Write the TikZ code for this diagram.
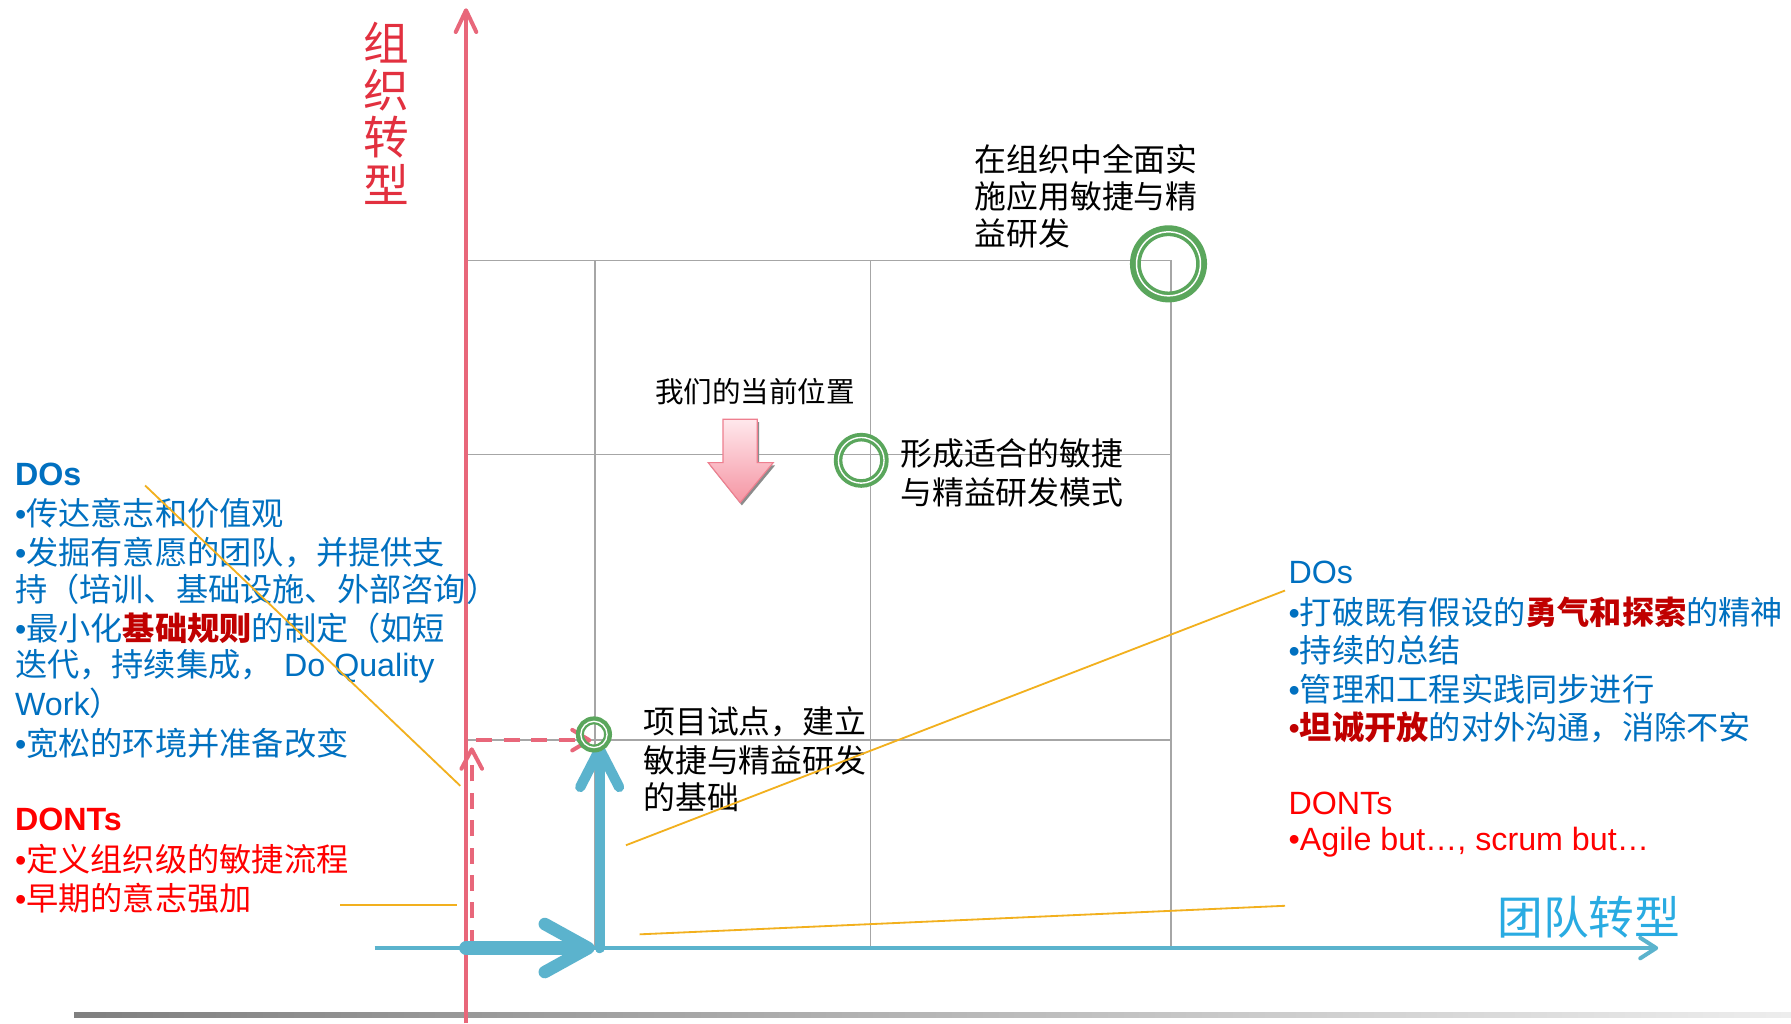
\documentclass[tikz,border=0pt]{standalone}
\usepackage{fontspec}
\setmainfont{Liberation Sans}
\newfontfamily\cjk{Noto Sans CJK SC}
\usetikzlibrary{calc}
\definecolor{axred}{HTML}{E8677A}
\definecolor{tealax}{HTML}{5BB3CD}
\definecolor{gridgray}{HTML}{A6A6A6}
\definecolor{ringgreen}{HTML}{5AA65C}
\definecolor{doblue}{HTML}{0070C0}
\definecolor{dred}{HTML}{C00000}
\definecolor{brred}{HTML}{FF0000}
\definecolor{orangeln}{HTML}{F2B01E}
\definecolor{titred}{HTML}{E2303F}
\definecolor{teamblue}{HTML}{29ABE2}
\definecolor{pinktop}{HTML}{FFE8EC}
\definecolor{pinkbot}{HTML}{F595A3}
\definecolor{pinkedge}{HTML}{EE7F8F}
\newcommand\mybul{{\rmfamily •}}
\tikzset{
  gridln/.style={draw=gridgray, line width=1.5pt},
  orln/.style={draw=orangeln, line width=1.6pt},
  axline/.style={line width=3.5pt, line cap=round, line join=round},
  ringstyle/.style={draw=ringgreen},
  ltxt/.style={inner sep=0pt, anchor=west, font=\cjk\fontsize{28.2}{33}\selectfont},
  btxt/.style={inner sep=0pt, anchor=west, text=black, font=\cjk\fontsize{27.9}{33}\selectfont},
  dashln/.style={draw=axred, line width=3.5pt, dash pattern=on 14pt off 10pt}
}
\begin{document}
\begin{tikzpicture}[x=1pt,y=-1pt]
\fill[white] (0,0) rectangle (1568,896);
\useasboundingbox (0,0) rectangle (1568,896);

% bottom bar
\shade[left color=black!50, right color=black!7] (65,886) rectangle (1568,891);

% grid
\draw[gridln] (410,228) -- (1025,228) -- (1025,830);
\draw[gridln] (410,398) -- (1025,398);
\draw[gridln] (410,648) -- (1025,648);
\draw[gridln] (521,228) -- (521,830);
\draw[gridln] (762,228) -- (762,830);

% axes
\coordinate (xl) at (328,830);
\coordinate (xr) at (1450,830);
\draw[tealax, line width=4pt] (xl) -- (xr);
\draw[tealax, axline] ($(xr)+(-14,-9)$) -- (xr) -- ($(xr)+(-14,9)$);

\coordinate (ybot) at (408,896);
\coordinate (ytop) at (408,9);
\draw[axred, line width=3.5pt] (ybot) -- (ytop);
\draw[axred, axline] ($(ytop)+(-9,19)$) -- (ytop) -- ($(ytop)+(9,19)$);

% red dashed path
\coordinate (dv0) at (413,828);
\coordinate (dv1) at (413,656);
\coordinate (dh0) at (417,648);
\coordinate (dh1) at (516,648);
\draw[dashln] (dv0) -- ($(dv1)+(0,8)$);
\draw[axred, axline] ($(dv1)+(-9,17)$) -- (dv1) -- ($(dv1)+(9,17)$);
\draw[dashln] (dh0) -- ($(dh1)+(-8,0)$);
\draw[axred, axline] ($(dh1)+(-15,-9)$) -- (dh1) -- ($(dh1)+(-15,9)$);

% thick teal arrows
\coordinate (p0) at (408,830);
\coordinate (p1) at (515,830);
\draw[tealax, line width=12pt, line cap=round] (p0) -- ($(p1)+(-6,0)$);
\draw[tealax, line width=11pt, line cap=round, line join=round] ($(p1)+(-38,-21)$) -- (p1) -- ($(p1)+(-38,21)$);
\coordinate (q0) at (525,830);
\coordinate (q1) at (525,656);
\draw[tealax, line width=9pt, line cap=round] (q0) -- ($(q1)+(0,6)$);
\draw[tealax, line width=9pt, line cap=round, line join=round] ($(q1)+(-17,33)$) -- (q1) -- ($(q1)+(17,33)$);

% green rings
\draw[ringstyle, line width=9.5pt] (1023,231) circle[radius=29pt];
\draw[white, line width=1.3pt] (1023,231) circle[radius=28pt];
\draw[ringstyle, line width=7.5pt] (754,403) circle[radius=20.3pt];
\draw[white, line width=1.2pt] (754,403) circle[radius=20pt];
\draw[ringstyle, line width=7pt] (520,643) circle[radius=12.3pt];
\draw[white, line width=1.2pt] (520,643) circle[radius=11.5pt];

% pink down arrow
\fill[black!45, shift={(1.5,2.5)}] (633,367) -- (663,367) -- (663,405) -- (677,405) -- (648,440) -- (620,405) -- (633,405) -- cycle;
\shade[top color=pinktop, bottom color=pinkbot, draw=pinkedge, line width=1pt] (633,367) -- (663,367) -- (663,405) -- (677,405) -- (648,440) -- (620,405) -- (633,405) -- cycle;

% axis titles
\node[inner sep=0pt, text=titred, align=center, font=\cjk\fontsize{40}{41.5}\selectfont] (ytitle) at (338,99) {组\\织\\转\\型};
\node[inner sep=0pt, text=teamblue, font=\cjk\fontsize{40}{44}\selectfont] (xtitle) at (1391,803) {团队转型};

% black labels
\node[inner sep=0pt, text=black, font=\cjk\fontsize{25}{30}\selectfont] (cur) at (661,343) {我们的当前位置};
\node[btxt] (m1) at (788,397) {形成适合的敏捷};
\node[btxt] (m2) at (788,431) {与精益研发模式};
\node[btxt] (t1) at (853,139) {在组织中全面实};
\node[btxt] (t2) at (853,172) {施应用敏捷与精};
\node[btxt] (t3) at (853,204) {益研发};
\node[btxt] (p1t) at (563,632) {项目试点，建立};
\node[btxt] (p2t) at (563,666) {敏捷与精益研发};
\node[btxt] (p3t) at (563,698) {的基础};

% left DOs / DONTs
\node[ltxt, text=doblue] (ldo) at (13,415) {\rmfamily\bfseries DOs};
\node[ltxt, text=doblue] (l1) at (13,449) {\mybul 传达意志和价值观};
\node[ltxt, text=doblue] (l2) at (13,484) {\mybul 发掘有意愿的团队，并提供支};
\node[ltxt, text=doblue] (l3) at (13,516) {持（培训、基础设施、外部咨询）};
\node[ltxt, text=doblue] (l4) at (13,550) {\mybul 最小化{\bfseries\color{dred}基础规则}的制定（如短};
\node[ltxt, text=doblue] (l5) at (13,583) {迭代，持续集成，{\rmfamily\hspace{10pt}Do Quality}};
\node[ltxt, text=doblue] (l6) at (13,616) {{\rmfamily Work}）};
\node[ltxt, text=doblue] (l7) at (13,651) {\mybul 宽松的环境并准备改变};
\node[ltxt, text=brred] (ldont) at (13,717) {\rmfamily\bfseries DONTs};
\node[ltxt, text=brred] (l8) at (13,752) {\mybul 定义组织级的敏捷流程};
\node[ltxt, text=brred] (l9) at (13,786) {\mybul 早期的意志强加};

% right DOs / DONTs
\node[ltxt, text=doblue] (rdo) at (1128,501) {\rmfamily DOs};
\node[ltxt, text=doblue] (r1) at (1128,536) {\mybul 打破既有假设的{\bfseries\color{dred}勇气和探索}的精神};
\node[ltxt, text=doblue] (r2) at (1128,569) {\mybul 持续的总结};
\node[ltxt, text=doblue] (r3) at (1128,603) {\mybul 管理和工程实践同步进行};
\node[ltxt, text=doblue] (r4) at (1128,637) {{\color{dred}\mybul\bfseries 坦诚开放}的对外沟通，消除不安};
\node[ltxt, text=brred] (rdont) at (1128,703) {\rmfamily DONTs};
\node[ltxt, text=brred] (r5) at (1128,737) {\rmfamily •Agile but…, scrum but…};

% orange leader lines
\coordinate (o1a) at (127,425);
\coordinate (o1b) at (403,688);
\coordinate (o2a) at (298,792);
\coordinate (o2b) at (400,792);
\coordinate (o3a) at (548,740);
\coordinate (o3b) at (1125,517);
\coordinate (o4a) at (560,818);
\coordinate (o4b) at (1125,793);
\draw[orln] (o1a) -- (o1b);
\draw[orln] (o2a) -- (o2b);
\draw[orln] (o3a) -- (o3b);
\draw[orln] (o4a) -- (o4b);
\end{tikzpicture}
\end{document}
